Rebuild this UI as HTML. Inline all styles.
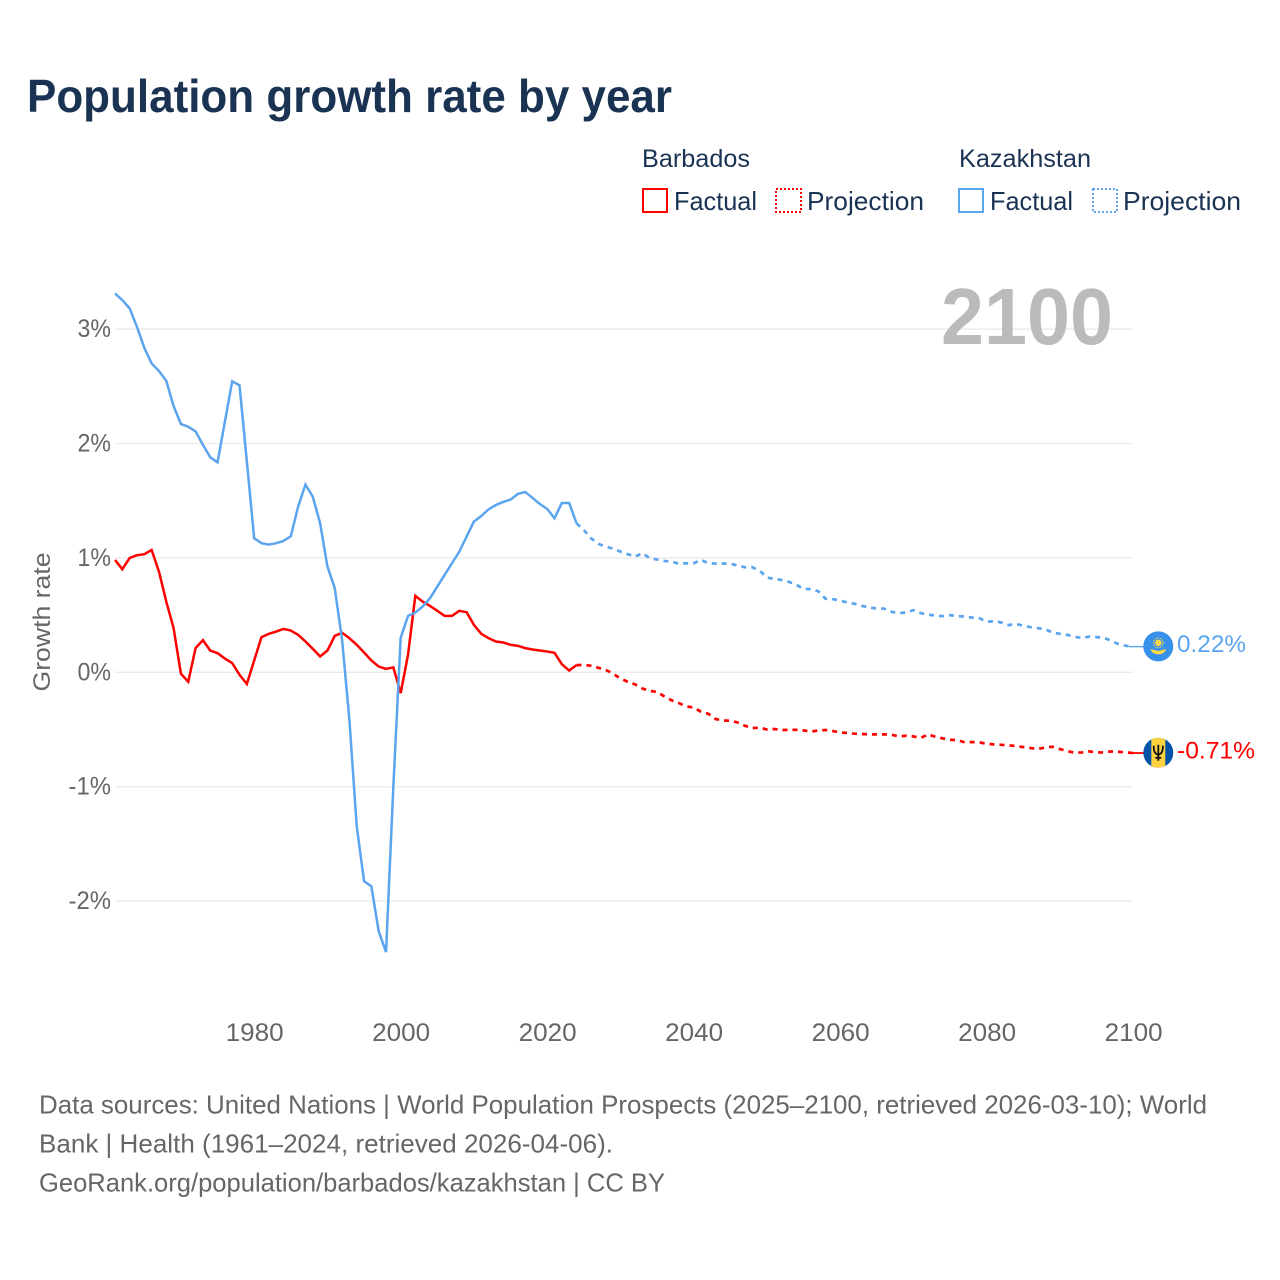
<!DOCTYPE html>
<html lang="en">
<head>
<meta charset="utf-8">
<title>Population growth rate by year</title>
<style>
  html, body { margin: 0; padding: 0; background: #ffffff; }
  svg { display: block; }
  text { font-family: "Liberation Sans", sans-serif; }
</style>
</head>
<body>
<svg id="chart" xmlns="http://www.w3.org/2000/svg" width="1280" height="1280" viewBox="0 0 1280 1280">
  <rect x="0" y="0" width="1280" height="1280" fill="#ffffff"/>
  <text x="27" y="112" font-size="46" font-weight="700" fill="#1a3353" textLength="645" lengthAdjust="spacingAndGlyphs">Population growth rate by year</text>

  <g>
    <text x="642" y="167" font-size="25" fill="#1a3353" textLength="108" lengthAdjust="spacingAndGlyphs">Barbados</text>
    <text x="959" y="167" font-size="25" fill="#1a3353" textLength="132" lengthAdjust="spacingAndGlyphs">Kazakhstan</text>
    <rect x="643" y="189" width="24" height="23" fill="none" stroke="#ff0000" stroke-width="2"/>
    <text x="674" y="210" font-size="26" fill="#1a3353" textLength="83" lengthAdjust="spacingAndGlyphs">Factual</text>
    <rect x="776" y="189" width="25" height="23" fill="none" stroke="#ff0000" stroke-width="2" stroke-dasharray="2 2"/>
    <text x="807" y="210" font-size="26" fill="#1a3353" textLength="117" lengthAdjust="spacingAndGlyphs">Projection</text>
    <rect x="959" y="189" width="24" height="23" fill="none" stroke="#5ba4ee" stroke-width="2"/>
    <text x="990" y="210" font-size="26" fill="#1a3353" textLength="83" lengthAdjust="spacingAndGlyphs">Factual</text>
    <rect x="1093" y="189" width="24" height="23" fill="none" stroke="#5ba4ee" stroke-width="2" stroke-dasharray="2 2"/>
    <text x="1123" y="210" font-size="26" fill="#1a3353" textLength="118" lengthAdjust="spacingAndGlyphs">Projection</text>
  </g>

  <g id="grid"></g>
  <g id="yticks"></g>
  <g id="xticks"></g>
  <text transform="translate(50,622) rotate(-90)" text-anchor="middle" font-size="24" fill="#666666" textLength="139" lengthAdjust="spacingAndGlyphs">Growth rate</text>
  <text x="941" y="344" font-size="80" font-weight="700" fill="#bbbbbb" textLength="172" lengthAdjust="spacingAndGlyphs">2100</text>
  <g id="series"></g>

  <defs>
    <clipPath id="flagClip"><circle cx="0" cy="0" r="15"/></clipPath>
  </defs>
  <g id="flag-kz">
    <circle cx="0" cy="0" r="15" fill="#3790ea"/>
    <circle cx="0" cy="-3.5" r="3.2" fill="#ffd84a"/>
    <circle cx="0" cy="-3.5" r="4.8" fill="none" stroke="#ffd84a" stroke-width="1.2" stroke-dasharray="1.2 1.2"/>
    <path d="M-8 2.5 Q-3 4 0 4.5 Q3 4 8 2.5 Q6 8 0 8 Q-6 8 -8 2.5 Z" fill="#ffd84a"/>
  </g>
  <g id="flag-bb">
    <g clip-path="url(#flagClip)">
      <rect x="-15" y="-15" width="30" height="30" fill="#0052a8"/>
      <rect x="-7" y="-15" width="14" height="30" fill="#ffd23f"/>
    </g>
    <path d="M0 -8 V8 M-4.5 -7 Q-5 1 0 2 Q5 1 4.5 -7 M-3 5 H3" fill="none" stroke="#111111" stroke-width="1.8"/>
  </g>
  <text id="label-kz" x="1177" font-size="24" fill="#5ba4ee" textLength="69" lengthAdjust="spacingAndGlyphs"></text>
  <text id="label-bb" x="1177" font-size="24" fill="#ff0000" textLength="78" lengthAdjust="spacingAndGlyphs"></text>

  <g>
    <text x="39" y="1113.5" font-size="26" fill="#666666" textLength="1168" lengthAdjust="spacingAndGlyphs">Data sources: United Nations | World Population Prospects (2025–2100, retrieved 2026-03-10); World</text>
    <text x="39" y="1152.5" font-size="26" fill="#666666" textLength="574" lengthAdjust="spacingAndGlyphs">Bank | Health (1961–2024, retrieved 2026-04-06).</text>
    <text x="39" y="1191.5" font-size="26" fill="#666666" textLength="626" lengthAdjust="spacingAndGlyphs">GeoRank.org/population/barbados/kazakhstan | CC BY</text>
  </g>
</svg>

<script>
const firstYear = 1961;
const xTickYears = [1980, 2000, 2020, 2040, 2060, 2080, 2100];
const yTickValues = [3, 2, 1, 0, -1, -2];

const barbadosFactual = [
  0.978, 0.897, 0.995, 1.019, 1.028, 1.065, 0.876, 0.614, 0.381, -0.017,
  -0.087, 0.207, 0.277, 0.186, 0.163, 0.116, 0.076, -0.026, -0.107, 0.099,
  0.303, 0.332, 0.352, 0.375, 0.361, 0.323, 0.265, 0.201, 0.134, 0.186,
  0.314, 0.341, 0.294, 0.236, 0.169, 0.099, 0.046, 0.026, 0.038, -0.186,
  0.148, 0.664, 0.614, 0.576, 0.533, 0.489, 0.489, 0.533, 0.521, 0.41,
  0.332, 0.294, 0.265, 0.256, 0.236, 0.227, 0.207, 0.195, 0.186, 0.177,
  0.166, 0.067, 0.011, 0.058
];
const barbadosProjection = [
  0.061, 0.052, 0.035, 0.017, -0.017, -0.058, -0.087, -0.11, -0.146, -0.166,
  -0.177, -0.215, -0.25, -0.274, -0.303, -0.312, -0.349, -0.367, -0.413, -0.425,
  -0.428, -0.443, -0.472, -0.492, -0.489, -0.504, -0.5, -0.509, -0.507, -0.507,
  -0.512, -0.524, -0.512, -0.509, -0.518, -0.53, -0.535, -0.541, -0.544, -0.547,
  -0.547, -0.547, -0.55, -0.565, -0.559, -0.565, -0.578, -0.547, -0.568, -0.582,
  -0.594, -0.597, -0.617, -0.614, -0.617, -0.629, -0.635, -0.638, -0.643, -0.649,
  -0.658, -0.667, -0.675, -0.661, -0.655, -0.675, -0.693, -0.707, -0.705, -0.696,
  -0.705, -0.705, -0.696, -0.699, -0.705, -0.71
];
const kazakhstanFactual = [
  3.307, 3.249, 3.176, 3.016, 2.832, 2.696, 2.629, 2.544, 2.323, 2.166,
  2.142, 2.102, 1.985, 1.875, 1.831, 2.186, 2.539, 2.504, 1.837, 1.167,
  1.124, 1.112, 1.124, 1.144, 1.185, 1.444, 1.636, 1.531, 1.299, 0.92,
  0.731, 0.28, -0.42, -1.35, -1.83, -1.875, -2.268, -2.45, -1.0, 0.297,
  0.489, 0.518, 0.57, 0.643, 0.745, 0.847, 0.949, 1.05, 1.182, 1.313,
  1.362, 1.42, 1.458, 1.485, 1.505, 1.555, 1.572, 1.52, 1.467, 1.424,
  1.342, 1.476, 1.476, 1.299
];
const kazakhstanProjection = [
  1.24, 1.167, 1.118, 1.094, 1.077, 1.051, 1.028, 1.007, 1.037, 0.993,
  0.981, 0.969, 0.961, 0.946, 0.949, 0.949, 0.978, 0.949, 0.946, 0.946,
  0.946, 0.928, 0.914, 0.914, 0.885, 0.824, 0.812, 0.803, 0.786, 0.762,
  0.725, 0.722, 0.705, 0.638, 0.635, 0.623, 0.605, 0.594, 0.576, 0.562,
  0.553, 0.553, 0.524, 0.513, 0.518, 0.539, 0.513, 0.5, 0.492, 0.486,
  0.495, 0.486, 0.483, 0.474, 0.469, 0.437, 0.443, 0.431, 0.408, 0.419,
  0.402, 0.39, 0.381, 0.373, 0.343, 0.332, 0.323, 0.308, 0.294, 0.308,
  0.303, 0.297, 0.271, 0.242, 0.227, 0.22
];

const NS = 'http://www.w3.org/2000/svg';
function xScale(year) { return 115 + (year - firstYear) * 7.325; }
function yScale(value) { return 671.8 - value * 114.4; }
function make(tag, attrs, parent) {
  const el = document.createElementNS(NS, tag);
  for (const k in attrs) el.setAttribute(k, attrs[k]);
  parent.appendChild(el);
  return el;
}
function percentWidth(label) {
  let w = 0;
  for (const c of label) w += c === '%' ? 19 : c === '-' ? 9 : 14.5;
  return w;
}

const gridGroup = document.getElementById('grid');
const yGroup = document.getElementById('yticks');
const xGroup = document.getElementById('xticks');
const seriesGroup = document.getElementById('series');

yTickValues.forEach(function (v) {
  const line = make('line', { x1: 115, x2: 1133, y1: yScale(v) + 0.5, y2: yScale(v) + 0.5, stroke: '#ececec', 'stroke-width': 1.5 }, gridGroup);
  
  
  const label = v + '%';
  const t = make('text', { x: 111, y: yScale(v) + 8.5, 'text-anchor': 'end', 'font-size': 25, fill: '#666666', textLength: percentWidth(label), lengthAdjust: 'spacingAndGlyphs' }, yGroup);
  
  
  t.textContent = label;
});

xTickYears.forEach(function (year) {
  const t = make('text', { x: xScale(year) + 0.5, y: 1041, 'text-anchor': 'middle', 'font-size': 25, fill: '#666666', textLength: 58, lengthAdjust: 'spacingAndGlyphs' }, xGroup);
  
  
  t.textContent = year;
});

function pointsFrom(values, startYear) {
  return values.map(function (v, i) { return xScale(startYear + i).toFixed(2) + ',' + yScale(v).toFixed(2); }).join(' ');
}

function drawFactual(values, color) {
  const el = make('polyline', { points: pointsFrom(values, firstYear), fill: 'none', stroke: color, 'stroke-width': 2.5, 'stroke-linejoin': 'miter' }, seriesGroup);
  return el;
}
function drawProjection(factual, values, color) {
  const startYear = firstYear + factual.length - 1;
  const all = [factual[factual.length - 1]].concat(values);
  const el = make('polyline', { points: pointsFrom(all, startYear), fill: 'none', stroke: color, 'stroke-width': 2.7, 'stroke-dasharray': '5 5' }, seriesGroup);
  return el;
}

const bbFactualLine = drawFactual(barbadosFactual, '#ff0000');


const bbProjectionLine = drawProjection(barbadosFactual, barbadosProjection, '#ff0000');


const kzFactualLine = drawFactual(kazakhstanFactual, '#5ba4ee');


const kzProjectionLine = drawProjection(kazakhstanFactual, kazakhstanProjection, '#5ba4ee');



const lastYear = firstYear + barbadosFactual.length + barbadosProjection.length - 1;
const bbLast = barbadosProjection[barbadosProjection.length - 1];
const kzLast = kazakhstanProjection[kazakhstanProjection.length - 1];

const bbLead = make('line', { x1: xScale(lastYear) - 4, x2: 1144, y1: yScale(bbLast), y2: yScale(bbLast), stroke: '#ff0000', 'stroke-width': 1.8 }, seriesGroup);


const kzLead = make('line', { x1: xScale(lastYear) - 4, x2: 1144, y1: yScale(kzLast), y2: yScale(kzLast), stroke: '#5ba4ee', 'stroke-width': 1.4 }, seriesGroup);



document.getElementById('flag-kz').setAttribute('transform', 'translate(1158.3,' + (yScale(kzLast) - 0.3) + ')');
document.getElementById('flag-bb').setAttribute('transform', 'translate(1158.3,' + (yScale(bbLast) - 0.3) + ')');
const labelKz = document.getElementById('label-kz');
labelKz.setAttribute('y', yScale(kzLast) + 5.5);
labelKz.textContent = kzLast.toFixed(2) + '%';
const labelBb = document.getElementById('label-bb');
labelBb.setAttribute('y', yScale(bbLast) + 5.5);
labelBb.textContent = bbLast.toFixed(2) + '%';
</script>
</body>
</html>
